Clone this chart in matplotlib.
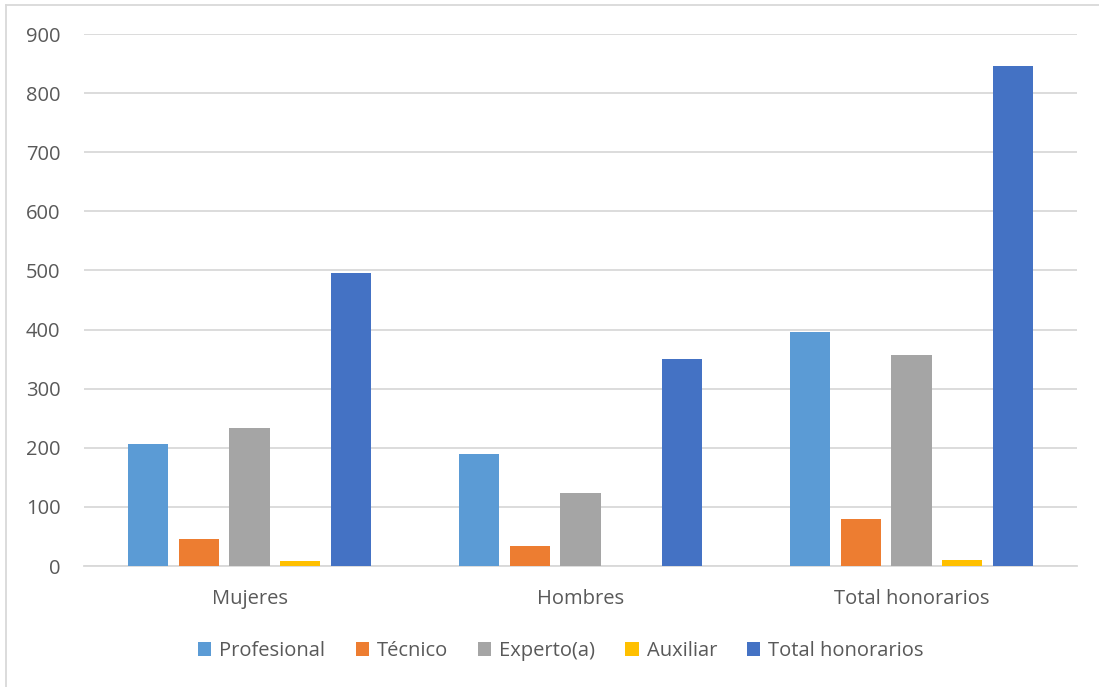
import numpy as np
import matplotlib.pyplot as plt
from matplotlib.lines import Line2D
from matplotlib.patches import Patch

plt.rcParams['font.family'] = ['Open Sans', 'DejaVu Sans']

categories = ['Mujeres', 'Hombres', 'Total honorarios']
series_names = ['Profesional', 'Técnico', 'Experto(a)', 'Auxiliar', 'Total honorarios']
profesional = [206, 189, 396]
tecnico = [46, 33, 80]
experto = [233, 124, 357]
auxiliar = [8, 0, 10]
total = [495, 351, 846]
yticks = [0, 100, 200, 300, 400, 500, 600, 700, 800, 900]

colors = ['#5B9BD5', '#ED7D31', '#A5A5A5', '#FFC000', '#4472C4']
text_color = '#595959'

fig = plt.figure(figsize=(10.99, 6.87), dpi=100)
ax = fig.add_axes([84 / 1099, 1 - 566 / 687, (1077 - 84) / 1099, (566 - 34) / 687])

x = np.arange(len(categories))
step = 0.154
width = 0.121
all_series = [profesional, tecnico, experto, auxiliar, total]
for i, vals in enumerate(all_series):
    ax.bar(x + (i - 2) * step, vals, width, color=colors[i], zorder=3)

ax.set_xlim(-0.5, 2.5)
ax.set_ylim(0, 900)
ax.set_yticks(yticks)
ax.set_xticks(x)
ax.set_xticklabels(categories)
ax.grid(axis='y', color='#D9D9D9', linewidth=1.3, zorder=0)
for s in ['top', 'right', 'left']:
    ax.spines[s].set_visible(False)
ax.spines['bottom'].set_color('#D9D9D9')
ax.spines['bottom'].set_linewidth(1.3)
ax.tick_params(axis='both', length=0, labelsize=14.5, colors=text_color)
ax.tick_params(axis='y', pad=17)
ax.tick_params(axis='x', pad=16.5)

handles = [Patch(facecolor=c) for c in colors]
fig.legend(handles, series_names, loc='center', bbox_to_anchor=(561 / 1099, 1 - 651 / 687),
           ncol=5, frameon=False, fontsize=14.5, labelcolor=text_color,
           handlelength=0.65, handleheight=0.65, handletextpad=0.4, columnspacing=1.5)

# outer chart frame (only left and top visible in the crop)
fig.add_artist(Line2D([6 / 1099, 6 / 1099], [0, 1 - 5 / 687], color='#D9D9D9', lw=1.3))
fig.add_artist(Line2D([6 / 1099, 1], [1 - 5 / 687, 1 - 5 / 687], color='#D9D9D9', lw=1.3))

fig.savefig('out.png', dpi=100)
